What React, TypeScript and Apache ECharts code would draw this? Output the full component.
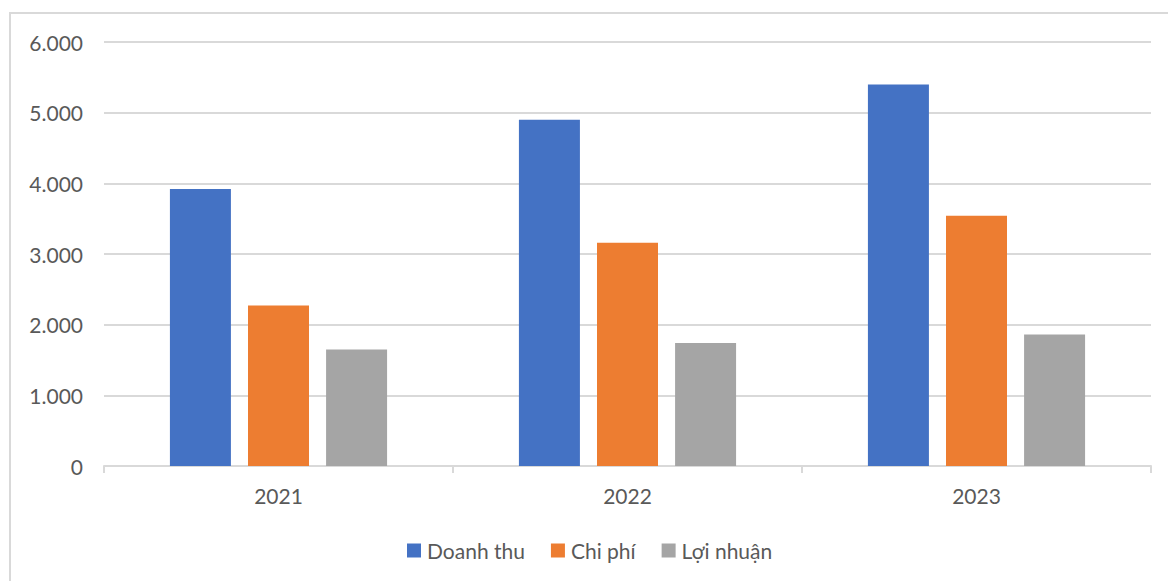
import React, { useEffect, useRef } from "react";
import * as echarts from "echarts";

const categories = ["2021", "2022", "2023"];
const seriesNames = ["Doanh thu", "Chi phí", "Lợi nhuận"];
const doanhThu = [3920, 4900, 5400];
const chiPhi = [2270, 3160, 3540];
const loiNhuan = [1650, 1740, 1860];
const colors = ["#4472C4", "#ED7D31", "#A5A5A5"];
const yTicks = [0, 1000, 2000, 3000, 4000, 5000, 6000];

const FONT = "Lato, 'Open Sans', sans-serif";
const TEXT = "#595959";
const LINE = "#d9d9d9";

function fmt(v: number): string {
  return String(v).replace(/\B(?=(\d{3})+(?!\d))/g, ".");
}

export default function App() {
  const ref = useRef<HTMLDivElement>(null);
  useEffect(() => {
    if (!ref.current) return;
    const chart = echarts.init(ref.current, null, { renderer: "svg" });
    const values = [doanhThu, chiPhi, loiNhuan];
    chart.setOption({
      animation: false,
      backgroundColor: "#ffffff",
      color: colors,
      graphic: [
        {
          type: "rect",
          shape: { x: 10, y: 13, width: 1200, height: 600 },
          style: { fill: "none", stroke: LINE, lineWidth: 2 },
          silent: true,
          z: -1,
        },
      ],
      grid: { left: 104, right: 17, top: 42, bottom: 115, containLabel: false },
      legend: {
        left: 402,
        top: 535,
        itemWidth: 14,
        itemHeight: 14,
        itemGap: 26,
        icon: "rect",
        textStyle: { color: TEXT, fontSize: 21, fontFamily: FONT, padding: [0, 0, 0, 1] },
        data: seriesNames,
      },
      xAxis: {
        type: "category",
        data: categories,
        axisLine: { show: true, lineStyle: { color: LINE, width: 2 } },
        axisTick: { show: true, length: 7, lineStyle: { color: LINE, width: 2 } },
        axisLabel: { color: TEXT, fontSize: 21, fontFamily: FONT, margin: 19 },
      },
      yAxis: {
        type: "value",
        min: yTicks[0],
        max: yTicks[yTicks.length - 1],
        interval: 1000,
        axisLine: { show: false },
        axisTick: { show: false },
        splitLine: { lineStyle: { color: LINE, width: 2 } },
        axisLabel: {
          color: TEXT,
          fontSize: 21,
          fontFamily: FONT,
          margin: 21,
          formatter: (v: number) => fmt(v),
        },
      },
      series: seriesNames.map((name, i) => ({
        name,
        type: "bar",
        data: values[i],
        barWidth: 61,
        barGap: "28%",
        barCategoryGap: "38%",
        itemStyle: { color: colors[i] },
      })),
    });
    return () => chart.dispose();
  }, []);
  return (
    <div
      ref={ref}
      style={{ position: "fixed", left: 0, top: 0, width: 1168, height: 581 }}
    />
  );
}
